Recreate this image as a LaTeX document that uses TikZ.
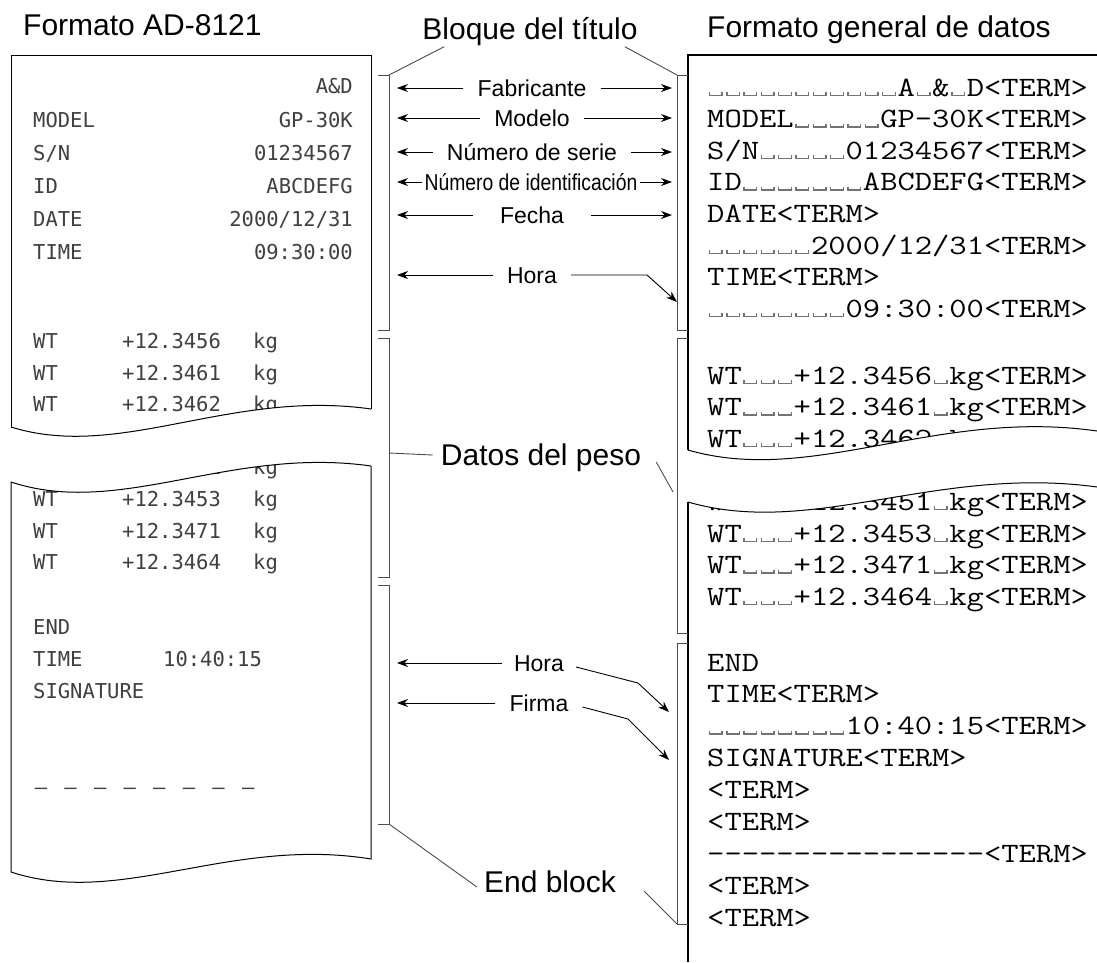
\documentclass[tikz,border=0pt]{standalone}
\usepackage{fontspec}
\setmainfont{Liberation Sans}
\newfontfamily\condfont[FakeStretch=0.84]{Liberation Sans}
\newfontfamily\dotfont{DejaVu Sans Mono}
\newfontfamily\termfont[FakeStretch=1.2]{Latin Modern Mono}
\usetikzlibrary{arrows.meta,positioning}
% open box standing for one blank character
\newcommand\spbox{\makebox[\fontcharwd\font`M]{\color{black!55}\rule{0.05em}{0.14em}\rule{0.4em}{0.05em}\rule{0.05em}{0.14em}}}
\ExplSyntaxOn
\cs_new:Npn \nrep #1#2 {\prg_replicate:nn{#1}{#2}}
\ExplSyntaxOff
\newcommand\nblank[1]{\nrep{#1}{\spbox}}

\begin{document}
\begin{tikzpicture}[x=1pt,y=-1pt,
  big/.style={font=\fontsize{30}{30}\selectfont,inner sep=0pt,text height=21pt,text depth=0pt},
  lbl/.style={font=\fontsize{23}{23}\selectfont,inner xsep=14pt,inner ysep=0pt,text height=16pt,text depth=0pt},
  prt/.style={font=\dotfont\fontsize{20.5}{20.5}\selectfont,text=black!75,inner sep=0pt},
  trm/.style={font=\termfont\fontsize{28}{28}\selectfont,inner sep=0pt,anchor=base west},
  sheet/.style={line width=1pt},
  brk/.style={line width=0.9pt,black!70},
  arr/.style={-{Stealth[length=11pt,width=8pt]},line width=0.9pt}
]
\useasboundingbox (0,0) rectangle (1097,962);
\fill[white] (0,0) rectangle (1097,962);

% titles
\node[big,anchor=west] (adfmt) at (23,25) {Formato AD-8121};
\node[big] (blq) at (530,29) {Bloque del título};
\node[big,anchor=west] (genfmt) at (707,27) {Formato general de datos};

% printed slip
\node[prt,anchor=base east] (pmfr) at (353,93) {A\&D};
\node[prt,anchor=base west] (pmod) at (33,127) {MODEL};
\node[prt,anchor=base east] (pmodv) at (353,127) {GP-30K};
\node[prt,anchor=base west] (psn) at (33,160) {S/N};
\node[prt,anchor=base east] (psnv) at (353,160) {01234567};
\node[prt,anchor=base west] (pid) at (33,193) {ID};
\node[prt,anchor=base east] (pidv) at (353,193) {ABCDEFG};
\node[prt,anchor=base west] (pdate) at (33,226) {DATE};
\node[prt,anchor=base east] (pdatev) at (353,226) {2000/12/31};
\node[prt,anchor=base west] (ptime) at (33,259) {TIME};
\node[prt,anchor=base east] (ptimev) at (353,259) {09:30:00};
\foreach \j/\v in {0/3456,1/3461,2/3462,4/3451,5/3453,6/3471,7/3464}{
  \node[prt,anchor=base west] (pw\j) at (33,{348.5+31.6*\j}) {WT};
  \node[prt,anchor=base west] (pv\j) at (122,{348.5+31.6*\j}) {+12.\v};
  \node[prt,anchor=base west] (pk\j) at (253,{348.5+31.6*\j}) {kg};
}
\node[prt,anchor=base west] (pend) at (33,634.5) {END};
\node[prt,anchor=base west] (ptime2) at (33,666.5) {TIME};
\node[prt,anchor=base west] (ptime2v) at (163,666.5) {10:40:15};
\node[prt,anchor=base west] (psig) at (33,698.5) {SIGNATURE};
\foreach \k in {0,...,7}
  \node[prt,anchor=base] (pd\k) at ({41+29.6*\k},794) {\textendash};

% general data format
\foreach \t [count=\i from 0] in {{\nblank{11}A\spbox\&\spbox D<TERM>},{MODEL\nblank{5}GP-30K<TERM>},{S/N\nblank{5}01234567<TERM>},{ID\nblank{7}ABCDEFG<TERM>},{DATE<TERM>},{\nblank{6}2000/12/31<TERM>},{TIME<TERM>},{\nblank{8}09:30:00<TERM>}}
  \node[trm] (hd\i) at (707,{96+31.6*\i}) {\t};
\foreach \j/\v in {0/3456,1/3461,2/3462,4/3451,5/3453,6/3471,7/3464}
  \node[trm] (wr\j) at (707,{384+31.6*\j}) {WT\nblank{3}+12.\v\spbox kg<TERM>};
\foreach \t [count=\k from 0] in {END,{TIME<TERM>},{\nblank{8}10:40:15<TERM>},{SIGNATURE<TERM>},{<TERM>},{<TERM>},{\nrep{16}{\mbox{-}}<TERM>},{<TERM>},{<TERM>}}
  \node[trm] (ed\k) at (707,{671+31.9*\k}) {\t};

% torn parts
\fill[white] (11,427) .. controls (120,461) and (230,389) .. (371,409) -- (371,466) .. controls (230,446) and (120,518) .. (11,482) -- cycle;
\fill[white] (688,450) .. controls (812,486) and (937,408) .. (1097,431) -- (1097,487) .. controls (937,465) and (812,538) .. (688,502) -- cycle;
\draw[sheet] (11,427) -- (11,55) -- (371,55) -- (371,409);
\draw[sheet] (11,427) .. controls (120,461) and (230,389) .. (371,409);
\draw[sheet] (11,482) .. controls (120,518) and (230,446) .. (371,466);
\draw[sheet] (11,482) -- (11,872) .. controls (120,908) and (230,836) .. (371,859) -- (371,466);
\draw[sheet,line width=1.4pt] (688,450) -- (688,55) -- (1097,55);
\draw[sheet,line width=1.4pt] (688,502) -- (688,962);
\draw[sheet] (688,450) .. controls (812,486) and (937,408) .. (1097,431);
\draw[sheet] (688,502) .. controls (812,538) and (937,465) .. (1097,487);

% brackets
\draw[brk] (378,75) -- (389,75) coordinate (lb1t) -- (389,330) -- (378,330);
\draw[brk] (378,338) -- (389,338) -- (389,577) -- (378,577);
\draw[brk] (378,585) -- (389,585) -- (389,824) coordinate (lb3b) -- (378,824);
\draw[brk] (688,75) -- (677,75) coordinate (rb1t) -- (677,330) -- (688,330);
\draw[brk] (688,338) -- (677,338) -- (677,633) -- (688,633);
\draw[brk] (688,643) -- (677,643) -- (677,924) coordinate (rb3b) -- (688,924);
\coordinate (lb2m) at (389,453);
\coordinate (rb2m) at (673,492);

\node[big] (datw) at (541,455) {Datos del peso};
\node[big] (endb) at (550,882) {End block};
\draw[brk] ([xshift=22pt,yshift=-7pt]blq.south west) -- (lb1t);
\draw[brk] ([xshift=-13pt,yshift=-7pt]blq.south east) -- (rb1t);
\draw[brk] (lb2m) -- ([xshift=-8pt]datw.west);
\draw[brk] ([xshift=15pt,yshift=-7pt]datw.east) -- (rb2m);
\draw[brk] (lb3b) -- ([xshift=-7pt,yshift=-5pt]endb.west);
\draw[brk] ([xshift=28pt,yshift=-9pt]endb.east) -- (rb3b);

% title block items
\coordinate (tl) at (397,0);
\coordinate (tr) at (672,0);
\node[lbl] (fab) at (532,88) {Fabricante};
\node[lbl] (mdl) at (532,118) {Modelo};
\node[lbl] (nse) at (532,152) {Número de serie};
\node[lbl,font=\condfont\fontsize{23}{23}\selectfont,inner xsep=2pt] (nid) at (531,182) {Número de identificación};
\node[lbl,inner xsep=27pt] (fch) at (532,215) {Fecha};
\node[lbl] (hra) at (532,275) {Hora};
\foreach \n in {fab,mdl,nse,nid,fch}{
  \draw[arr] (\n.west) -- (\n.west -| tl);
  \draw[arr] (\n.east) -- (\n.east -| tr);
}
\coordinate (hrk) at (647,275);
\coordinate (hrt) at (677,302);
\draw[arr] (hra.west) -- (hra.west -| tl);
\draw[arr] (hra.east) -- (hrk) -- (hrt);

% end block items
\node[lbl,inner xsep=12pt] (hrb) at (539,663) {Hora};
\node[lbl] (frm) at (539,703) {Firma};
\coordinate (hbk) at (638,683);
\coordinate (hbt) at (669,712);
\coordinate (fmk) at (628,719);
\coordinate (fmt) at (669,760);
\draw[arr] (hrb.west) -- (hrb.west -| tl);
\draw[arr] ([yshift=-4pt]hrb.east) -- (hbk) -- (hbt);
\draw[arr] (frm.west) -- (frm.west -| tl);
\draw[arr] ([yshift=-4pt]frm.east) -- (fmk) -- (fmt);
\end{tikzpicture}
\end{document}
